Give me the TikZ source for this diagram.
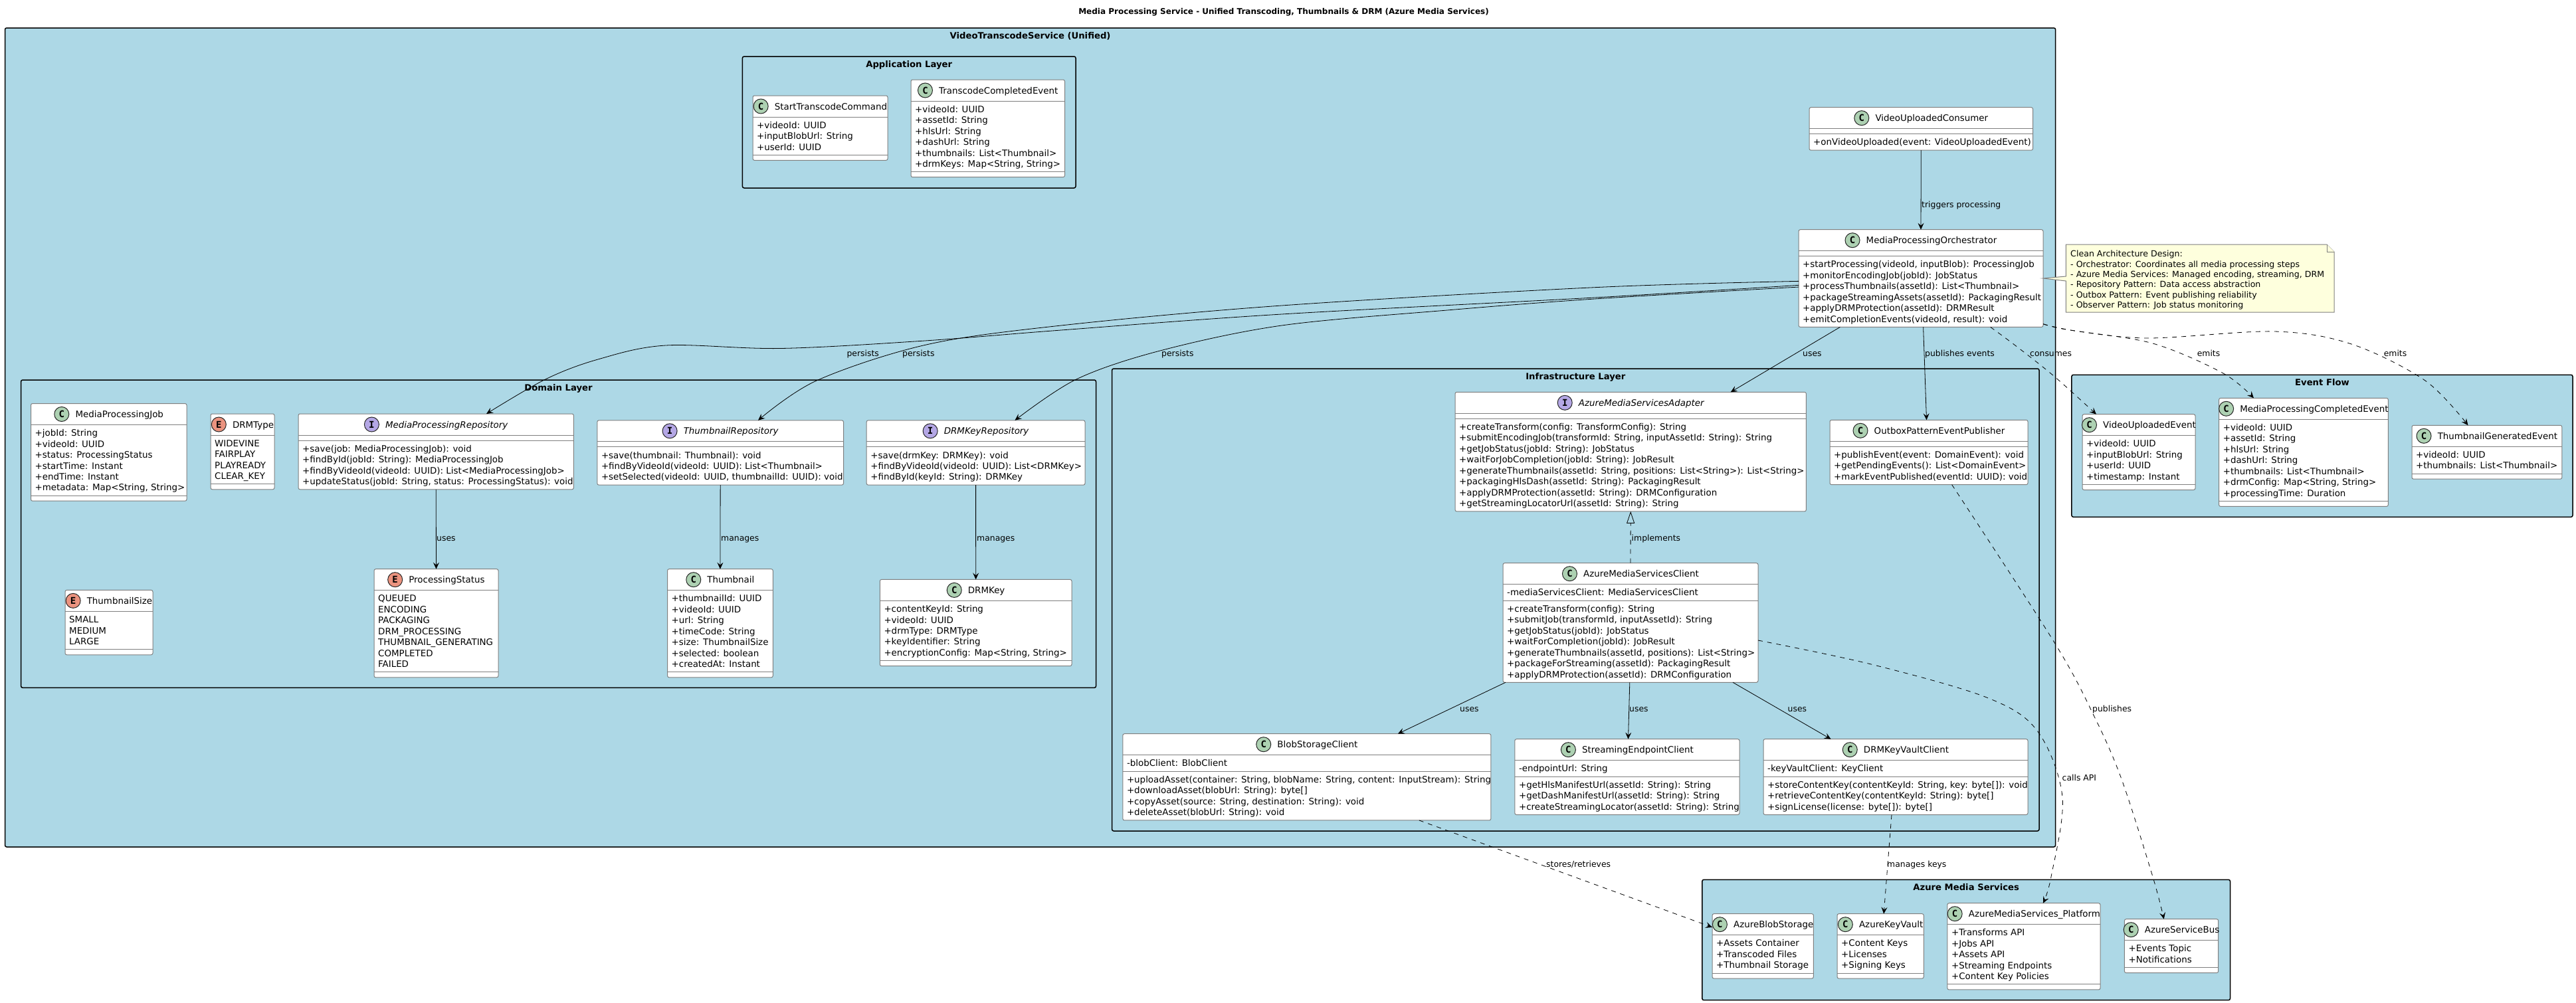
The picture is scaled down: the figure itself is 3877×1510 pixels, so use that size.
\documentclass[tikz,border=0pt]{standalone}
\usepackage{fontspec}
\setmainfont{DejaVu Sans}
\setmonofont{DejaVu Sans Mono}
\usetikzlibrary{arrows.meta,calc}
\definecolor{pkgblue}{HTML}{ADD8E6}
\definecolor{boxline}{HTML}{7F7F7F}
\definecolor{notefill}{HTML}{FEFFDD}
\definecolor{kindC}{HTML}{ADD1B2}
\definecolor{kindI}{HTML}{B4A7E5}
\definecolor{kindE}{HTML}{EB937F}
\newcommand{\fontbody}{\fontsize{13.4}{16.45}\selectfont}
\newcommand{\fontnote}{\fontsize{12.6}{15.35}\selectfont}
\newcommand{\fontedge}{\fontsize{12.4}{15}\selectfont}
\newcommand{\fonttitle}{\fontsize{13.2}{16}\selectfont\bfseries}
\newcommand{\fontmain}{\fontsize{12}{16}\selectfont\bfseries}
\newcommand{\ubfC}{}
\newcommand{\ubfI}{\itshape}
\newcommand{\ubfE}{}
\tikzset{
  pkgframe/.style={draw=black,line width=1.5pt,fill=pkgblue,rounded corners=2.5pt,inner sep=0pt,outer sep=0pt},
  pkgtitle/.style={anchor=base,inner sep=0pt,font=\fonttitle},
  umlclass/.style={draw=boxline,line width=1pt,fill=white,rounded corners=2.5pt,inner sep=0pt,outer sep=0pt},
  sepline/.style={draw=boxline,line width=1pt},
  headtext/.style={anchor=base,inner sep=0pt,font=\fontbody},
  membertext/.style={anchor=north west,inner sep=0pt,align=left,font=\fontbody},
  umlicon/.style={circle,draw=black!85,line width=1pt,minimum size=22pt,inner sep=0pt,font=\ttfamily\bfseries\fontsize{14}{14}\selectfont},
  usesarrow/.style={draw=black,line width=.8pt,-{Stealth[length=10pt,width=9pt,inset=4pt]}},
  deparrow/.style={usesarrow,dash pattern=on 7pt off 7pt},
  realizearrow/.style={draw=black,line width=.8pt,dash pattern=on 7pt off 7pt,-{Triangle[open,length=18pt,width=12pt,fill=none]}},
  edgelabel/.style={anchor=base west,inner sep=0pt,font=\fontedge},
  notebody/.style={draw=boxline,line width=1pt,fill=notefill},
  notetext/.style={anchor=north west,inner sep=0pt,align=left,font=\fontnote}
}
% package frame: id, x1, y1, x2, y2, title
\newcommand{\pkgbox}[6]{%
  \pgfmathsetmacro{\fcx}{(#2+#4)/2}\pgfmathsetmacro{\fcy}{(#3+#5)/2}%
  \pgfmathsetmacro{\fw}{#4-#2}\pgfmathsetmacro{\fh}{#5-#3}\pgfmathsetmacro{\fty}{#3+16}%
  \node[pkgframe,minimum width=\fw pt,minimum height=\fh pt] (#1) at (\fcx,\fcy) {};
  \node[pkgtitle] (#1-title) at (\fcx,\fty) {#6};
}
% class box: id, kind, x1, x2, top, title, nAttr, nMeth, then {attrs}{methods}
\newcommand{\umlbox}[8]{%
  \def\ubid{#1}\def\ubkind{#2}\def\ubxa{#3}\def\ubxb{#4}\def\ubtop{#5}\def\ubtitle{#6}\def\ubna{#7}\def\ubnm{#8}\umlboxb}
\newcommand{\umlboxb}[2]{%
  \pgfmathsetmacro{\ubsa}{\ubtop+32}%
  \pgfmathsetmacro{\ubsb}{\ubsa+\ubna*16.45+8}%
  \pgfmathsetmacro{\ubbot}{\ubsb+\ubnm*16.45+8}%
  \pgfmathsetmacro{\ubcx}{(\ubxa+\ubxb)/2}%
  \pgfmathsetmacro{\ubcy}{(\ubtop+\ubbot)/2}%
  \pgfmathsetmacro{\ubw}{\ubxb-\ubxa}%
  \pgfmathsetmacro{\ubh}{\ubbot-\ubtop}%
  \node[umlclass,minimum width=\ubw pt,minimum height=\ubh pt] (\ubid) at (\ubcx,\ubcy) {};
  \draw[sepline] (\ubxa,\ubsa) -- (\ubxb,\ubsa);
  \draw[sepline] (\ubxa,\ubsb) -- (\ubxb,\ubsb);
  \pgfmathsetmacro{\ubhx}{\ubcx+16}\pgfmathsetmacro{\ubhy}{\ubtop+21}%
  \node[headtext] (\ubid-head) at (\ubhx,\ubhy) {\csname ubf\ubkind\endcsname\ubtitle};
  \node[umlicon,fill=kind\ubkind] (\ubid-icon) at ([xshift=-20.5pt,yshift=5pt]\ubid-head.base west) {\ubkind};
  \pgfmathsetmacro{\ubtx}{\ubxa+6}\pgfmathsetmacro{\ubay}{\ubsa+4}\pgfmathsetmacro{\ubmy}{\ubsb+4}%
  \ifnum\ubna>0 \node[membertext] (\ubid-attrs) at (\ubtx,\ubay) {\rule{0pt}{13pt}#1};\fi
  \ifnum\ubnm>0 \node[membertext] (\ubid-meths) at (\ubtx,\ubmy) {\rule{0pt}{13pt}#2};\fi
}
\begin{document}
\begin{tikzpicture}[x=1pt,y=-1pt]
\useasboundingbox (0,0) rectangle (3877,1510);
\fill[white] (0,0) rectangle (3877,1510);
\node[pkgtitle,font=\fontmain] (maintitle) at (1932,21) {Media Processing Service - Unified Transcoding, Thumbnails \& DRM (Azure Media Services)};
% frames
\pkgbox{svc}{7.5}{42}{3093.6}{1275}{VideoTranscodeService (Unified)}
\pkgbox{app}{1117.4}{85}{1619}{283}{Application Layer}
\pkgbox{dom}{31.6}{572}{1649.5}{1035.4}{Domain Layer}
\pkgbox{inf}{1673.6}{555}{3069}{1251}{Infrastructure Layer}
\pkgbox{evt}{3117.9}{564.3}{3872}{778.3}{Event Flow}
\pkgbox{azr}{2561.8}{1324.3}{3356.5}{1505.7}{Azure Media Services}
% application
\umlbox{start}{C}{1133}{1336}{144}{StartTranscodeCommand}{3}{0}{+videoId: UUID\\+inputBlobUrl: String\\+userId: UUID}{}
\umlbox{tdone}{C}{1371}{1602.5}{120}{TranscodeCompletedEvent}{6}{0}{+videoId: UUID\\+assetId: String\\+hlsUrl: String\\+dashUrl: String\\+thumbnails: List<Thumbnail>\\+drmKeys: Map<String, String>}{}
% service level
\umlbox{consumer}{C}{2723}{3059.6}{161.7}{VideoUploadedConsumer}{0}{1}{}{+onVideoUploaded(event: VideoUploadedEvent)}
\umlbox{orch}{C}{2707}{3075}{345.7}{MediaProcessingOrchestrator}{0}{6}{}{+startProcessing(videoId, inputBlob): ProcessingJob\\+monitorEncodingJob(jobId): JobStatus\\+processThumbnails(assetId): List<Thumbnail>\\+packageStreamingAssets(assetId): PackagingResult\\+applyDRMProtection(assetId): DRMResult\\+emitCompletionEvents(videoId, result): void}
% domain
\umlbox{job}{C}{46.5}{281}{607.5}{MediaProcessingJob}{6}{0}{+jobId: String\\+videoId: UUID\\+status: ProcessingStatus\\+startTime: Instant\\+endTime: Instant\\+metadata: Map<String, String>}{}
\umlbox{drmtype}{E}{317}{413}{623}{DRMType}{4}{0}{WIDEVINE\\FAIRPLAY\\PLAYREADY\\CLEAR\_KEY}{}
\umlbox{mpr}{I}{449}{863.4}{623}{MediaProcessingRepository}{0}{4}{}{+save(job: MediaProcessingJob): void\\+findById(jobId: String): MediaProcessingJob\\+findByVideoId(videoId: UUID): List<MediaProcessingJob>\\+updateStatus(jobId: String, status: ProcessingStatus): void}
\umlbox{tsize}{E}{98}{230}{888.4}{ThumbnailSize}{3}{0}{SMALL\\MEDIUM\\LARGE}{}
\umlbox{pstatus}{E}{563}{750}{856.7}{ProcessingStatus}{7}{0}{QUEUED\\ENCODING\\PACKAGING\\DRM\_PROCESSING\\THUMBNAIL\_GENERATING\\COMPLETED\\FAILED}{}
\umlbox{trepo}{I}{898.8}{1269.5}{632.8}{ThumbnailRepository}{0}{3}{}{+save(thumbnail: Thumbnail): void\\+findByVideoId(videoId: UUID): List<Thumbnail>\\+setSelected(videoId: UUID, thumbnailId: UUID): void}
\umlbox{drepo}{I}{1304.2}{1633}{632.8}{DRMKeyRepository}{0}{3}{}{+save(drmKey: DRMKey): void\\+findByVideoId(videoId: UUID): List<DRMKey>\\+findById(keyId: String): DRMKey}
\umlbox{thumb}{C}{1004.5}{1163.3}{856.7}{Thumbnail}{7}{0}{+thumbnailId: UUID\\+videoId: UUID\\+url: String\\+timeCode: String\\+size: ThumbnailSize\\+selected: boolean\\+createdAt: Instant}{}
\umlbox{drmkey}{C}{1324.3}{1613}{872.4}{DRMKey}{5}{0}{+contentKeyId: String\\+videoId: UUID\\+drmType: DRMType\\+keyIdentifier: String\\+encryptionConfig: Map<String, String>}{}
% infrastructure
\umlbox{adapter}{I}{2190}{2718.4}{590.3}{AzureMediaServicesAdapter}{0}{8}{}{+createTransform(config: TransformConfig): String\\+submitEncodingJob(transformId: String, inputAssetId: String): String\\+getJobStatus(jobId: String): JobStatus\\+waitForJobCompletion(jobId: String): JobResult\\+generateThumbnails(assetId: String, positions: List<String>): List<String>\\+packagingHlsDash(assetId: String): PackagingResult\\+applyDRMProtection(assetId: String): DRMConfiguration\\+getStreamingLocatorUrl(assetId: String): String}
\umlbox{outbox}{C}{2754}{3052}{632.3}{OutboxPatternEventPublisher}{0}{3}{}{+publishEvent(event: DomainEvent): void\\+getPendingEvents(): List<DomainEvent>\\+markEventPublished(eventId: UUID): void}
\umlbox{client}{C}{2262}{2646}{847.7}{AzureMediaServicesClient}{1}{7}{-mediaServicesClient: MediaServicesClient}{+createTransform(config): String\\+submitJob(transformId, inputAssetId): String\\+getJobStatus(jobId): JobStatus\\+waitForCompletion(jobId): JobResult\\+generateThumbnails(assetId, positions): List<String>\\+packageForStreaming(assetId): PackagingResult\\+applyDRMProtection(assetId): DRMConfiguration}
\umlbox{blobc}{C}{1689.8}{2243.9}{1104.7}{BlobStorageClient}{1}{4}{-blobClient: BlobClient}{+uploadAsset(container: String, blobName: String, content: InputStream): String\\+downloadAsset(blobUrl: String): byte[]\\+copyAsset(source: String, destination: String): void\\+deleteAsset(blobUrl: String): void}
\umlbox{streamc}{C}{2279.8}{2618}{1112.7}{StreamingEndpointClient}{1}{3}{-endpointUrl: String}{+getHlsManifestUrl(assetId: String): String\\+getDashManifestUrl(assetId: String): String\\+createStreamingLocator(assetId: String): String}
\umlbox{keyc}{C}{2654}{3052}{1112.7}{DRMKeyVaultClient}{1}{3}{-keyVaultClient: KeyClient}{+storeContentKey(contentKeyId: String, key: byte[]): void\\+retrieveContentKey(contentKeyId: String): byte[]\\+signLicense(license: byte[]): byte[]}
% azure
\umlbox{azblob}{C}{2577}{2729.4}{1375.7}{AzureBlobStorage}{3}{0}{+Assets Container\\+Transcoded Files\\+Thumbnail Storage}{}
\umlbox{azkv}{C}{2765}{2895.3}{1375.7}{AzureKeyVault}{3}{0}{+Content Keys\\+Licenses\\+Signing Keys}{}
\umlbox{azplat}{C}{2930.8}{3161}{1359.7}{AzureMediaServices\_Platform}{5}{0}{+Transforms API\\+Jobs API\\+Assets API\\+Streaming Endpoints\\+Content Key Policies}{}
\umlbox{azbus}{C}{3197.4}{3338.7}{1383.7}{AzureServiceBus}{2}{0}{+Events Topic\\+Notifications}{}
% events
\umlbox{vue}{C}{3134}{3304}{623.7}{VideoUploadedEvent}{4}{0}{+videoId: UUID\\+inputBlobUrl: String\\+userId: UUID\\+timestamp: Instant}{}
\umlbox{mpce}{C}{3339.6}{3594.3}{599.3}{MediaProcessingCompletedEvent}{7}{0}{+videoId: UUID\\+assetId: String\\+hlsUrl: String\\+dashUrl: String\\+thumbnails: List<Thumbnail>\\+drmConfig: Map<String, String>\\+processingTime: Duration}{}
\umlbox{tge}{C}{3630}{3855.8}{640.3}{ThumbnailGeneratedEvent}{2}{0}{+videoId: UUID\\+thumbnails: List<Thumbnail>}{}
% note
\draw[notebody] (3109.3,368) -- (3502,368) -- (3513,379) -- (3513,470) -- (3109.3,470) -- (3109.3,423) -- (orch.east) -- (3109.3,416) -- cycle;
\draw[notebody] (3502,368) -- (3502,379) -- (3513,379);
\node[notetext] (archnote) at (3116,374.5) {\rule{0pt}{12pt}Clean Architecture Design:\\- Orchestrator: Coordinates all media processing steps\\- Azure Media Services: Managed encoding, streaming, DRM\\- Repository Pattern: Data access abstraction\\- Outbox Pattern: Event publishing reliability\\- Observer Pattern: Job status monitoring};
% connectors
\draw[usesarrow] (consumer.south) -- (orch.north);
\draw[usesarrow] plot[smooth,tension=.55] coordinates {([yshift=-10.3pt]orch.west) (2400,448) (1929,473) (1597,497) (1392,513) (1175,524.5) (1002,520) (900,541) (821,571) ([xshift=75.8pt]mpr.north)};
\draw[usesarrow] plot[smooth,tension=.55] coordinates {([yshift=-4.3pt]orch.west) (2400,432.7) (1929,460) (1597,490) (1394,519) (1229,573) ([xshift=56.9pt]trepo.north)};
\draw[usesarrow] plot[smooth,tension=.55] coordinates {([yshift=-13pt]orch.west) (2400,450) (2178,467) (1929,490) (1746,528) (1620,571) ([xshift=58.9pt]drepo.north)};
\draw[usesarrow] (mpr.south) -- (pstatus.north);
\draw[usesarrow] (trepo.south) -- (thumb.north);
\draw[usesarrow] (drepo.south) -- (drmkey.north);
\draw[usesarrow] ([xshift=-121.6pt]orch.south) -- ([xshift=150.5pt]adapter.north);
\draw[usesarrow] ([xshift=3.6pt]orch.south) -- ([xshift=-3.5pt]outbox.north);
\draw[deparrow] plot[smooth,tension=.55] coordinates {([xshift=104.7pt]orch.south) (3033,520) (3091,566) ([xshift=-64pt]vue.north)};
\draw[deparrow] plot[smooth,tension=.55] coordinates {([yshift=-68.7pt]orch.east) (3116,497) (3240,517) (3345.5,561.7) ([xshift=-75pt]mpce.north)};
\draw[deparrow] plot[smooth,tension=.55] coordinates {([yshift=-68.7pt]orch.east) (3116,497) (3232,509) (3423,499) (3539,518) (3650,573) ([xshift=-28.4pt]tge.north)};
\draw[realizearrow] (client.north) -- (adapter.south);
\draw[usesarrow] ([xshift=-188pt]client.south) -- ([xshift=137pt]blobc.north);
\draw[usesarrow] ([xshift=-1.2pt]client.south) -- ([xshift=1.6pt]streamc.north);
\draw[usesarrow] ([xshift=154pt]client.south) -- ([xshift=-97.4pt]keyc.north);
\draw[deparrow] plot[smooth,tension=.55] coordinates {([yshift=-26.5pt]client.east) (2816,1000) (2990,1050) (3066,1100) (3104,1200) (3087,1320) ([xshift=29pt]azplat.north)};
\draw[deparrow] plot[smooth,tension=.55] coordinates {([xshift=34.6pt]outbox.south) (3091.6,966.7) (3151,1076.7) (3193,1173) (3240,1320) ([xshift=-11.3pt]azbus.north)};
\draw[deparrow] ([xshift=169pt]blobc.south) -- ([yshift=28.4pt]azblob.west);
\draw[deparrow] ([xshift=-6pt]keyc.south) -- ([xshift=5pt]azkv.north);
% labels
\node[edgelabel] (l-trig) at (2892,312.5) {triggers processing};
\node[edgelabel] (l-p1) at (1274.4,536) {persists};
\node[edgelabel] (l-p2) at (1358,536) {persists};
\node[edgelabel] (l-p3) at (1748,536.5) {persists};
\node[edgelabel] (l-u1) at (657,814.5) {uses};
\node[edgelabel] (l-m1) at (1085,814.5) {manages};
\node[edgelabel] (l-m2) at (1470,814.5) {manages};
\node[edgelabel] (l-u2) at (2713,536.5) {uses};
\node[edgelabel] (l-pub) at (2897,536.5) {publishes events};
\node[edgelabel] (l-con) at (3055,536.5) {consumes};
\node[edgelabel] (l-e1) at (3306.6,536.5) {emits};
\node[edgelabel] (l-e2) at (3587.6,536.5) {emits};
\node[edgelabel] (l-impl) at (2455.5,814.2) {implements};
\node[edgelabel] (l-u3) at (2197,1071.5) {uses};
\node[edgelabel] (l-u4) at (2452,1071.5) {uses};
\node[edgelabel] (l-u5) at (2690.5,1071.5) {uses};
\node[edgelabel] (l-pubs) at (3149,1071.2) {publishes};
\node[edgelabel] (l-api) at (3103.5,1175.2) {calls API};
\node[edgelabel] (l-store) at (2327,1305.5) {stores/retrieves};
\node[edgelabel] (l-keys) at (2840,1305.5) {manages keys};
\end{tikzpicture}
\end{document}
